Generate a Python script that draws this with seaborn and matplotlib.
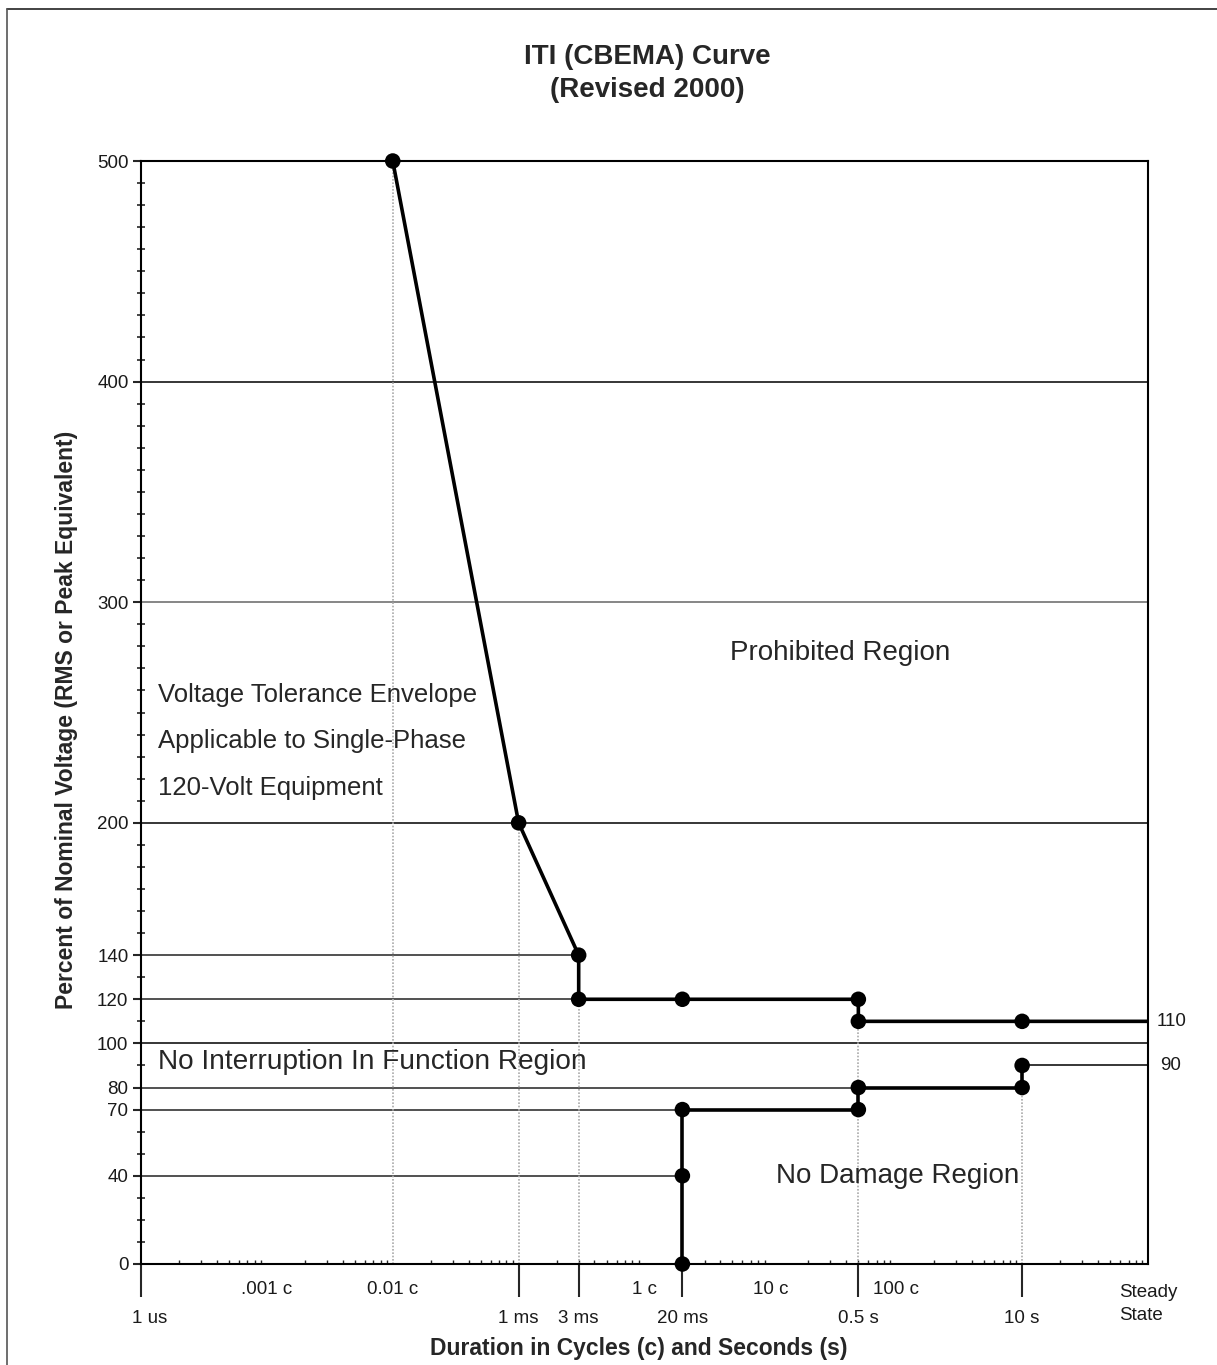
import matplotlib.pyplot as plt
import matplotlib.ticker as mticker
import matplotlib.transforms as mtrans
from matplotlib.lines import Line2D
import seaborn as sns

sns.set_style("white")
plt.rcParams['font.family'] = ['Liberation Sans', 'DejaVu Sans']

# ITI curve points: duration in seconds vs percent of nominal voltage
upper_sec = [1e-4, 1e-3, 3e-3, 3e-3, 2e-2, 0.5, 0.5, 10, 100]
upper_pct = [500, 200, 140, 120, 120, 120, 110, 110, 110]
lower_sec = [2e-2, 2e-2, 2e-2, 0.5, 0.5, 10, 10]
lower_pct = [0, 40, 70, 70, 80, 80, 90]

# axis ticks
cycle_ticks = [1e-5, 1e-4, 1e-2, 1e-1, 1]
cycle_labels = ['.001 c', '0.01 c', '1 c', '10 c', '100 c']
sec_ticks = [1e-6, 1e-3, 3e-3, 2e-2, 0.5, 10]
sec_labels = ['1 us', '1 ms', '3 ms', '20 ms', '0.5 s', '10 s']
y_ticks = [0, 40, 70, 80, 100, 120, 140, 200, 300, 400, 500]

# reference lines
full_grid = [100, 200, 300, 400]
full_grid_col = ['black', 'black', '#666666', 'black']
partial_y = [140, 120, 80, 70, 40]
partial_end = [3e-3, 3e-3, 0.5, 2e-2, 2e-2]
drop_x = [1e-4, 1e-3, 3e-3, 0.5, 10]
drop_top = [500, 200, 120, 110, 80]

fig = plt.figure(figsize=(12.17, 13.65), dpi=100)
ax = fig.add_axes([141/1217, 1 - 1264/1365, 1007/1217, 1103/1365])
ax.set_xscale('log')
ax.set_xlim(1e-6, 1e2)
ax.set_ylim(0, 500)

# grid-ish lines
for yv, c in zip(full_grid, full_grid_col):
    ax.hlines(yv, 1e-6, 1e2, colors=c, lw=1.1, zorder=1)
for yv, xe in zip(partial_y, partial_end):
    ax.hlines(yv, 1e-6, xe, colors='#222222', lw=1.1, zorder=1)
ax.vlines(drop_x, 0, drop_top, colors='#aaaaaa', lw=1.2, linestyles=(0, (1, 1)), zorder=1)
ax.hlines(90, 10, 100, colors='black', lw=1.1, zorder=2, clip_on=False)

# the curve
sns.lineplot(x=upper_sec, y=upper_pct, sort=False, estimator=None, color='black',
             linewidth=2.6, ax=ax, zorder=3)
sns.lineplot(x=lower_sec, y=lower_pct, sort=False, estimator=None, color='black',
             linewidth=2.6, ax=ax, zorder=3)
sns.scatterplot(x=upper_sec[:-1] + lower_sec, y=upper_pct[:-1] + lower_pct, s=125,
                color='black', edgecolor='none', ax=ax, zorder=5, clip_on=False)

# x ticks: cycles on top row, seconds on bottom row
ax.xaxis.set_major_locator(mticker.FixedLocator(cycle_ticks))
ax.set_xticklabels(cycle_labels)
ax.xaxis.set_minor_locator(mticker.LogLocator(base=10, subs=range(2, 10), numticks=20))
ax.xaxis.set_minor_formatter(mticker.NullFormatter())
ax.tick_params(axis='x', which='major', direction='inout', length=18, width=1.5,
               labelsize=13.5, pad=3, labelcolor='#1a1a1a')
ax.tick_params(axis='x', which='minor', direction='in', length=3, width=1, bottom=True)

sec = ax.secondary_xaxis('bottom')
sec.set_xticks(sec_ticks, labels=sec_labels)
sec.xaxis.set_minor_locator(mticker.NullLocator())
sec.tick_params(direction='out', length=24, width=1.5, labelsize=13.5, pad=9,
                labelcolor='#1a1a1a')
sec.spines['bottom'].set_visible(False)
first = sec.xaxis.get_ticklabels()[0]
first.set_transform(first.get_transform() +
                    mtrans.ScaledTranslation(0.09, 0, fig.dpi_scale_trans))

# y ticks
ax.set_yticks(y_ticks)
ax.yaxis.set_minor_locator(mticker.MultipleLocator(10))
ax.tick_params(axis='y', which='major', direction='out', length=6, width=1.5,
               labelsize=13.5, pad=3, labelcolor='#1a1a1a', left=True)
ax.tick_params(axis='y', which='minor', direction='inout', length=6, width=1.2, left=True)

for s in ax.spines.values():
    s.set_visible(True)
    s.set_color('black')
    s.set_linewidth(1.5)

ax.set_xlabel('')
ax.set_ylabel('')

# right-hand values
ax.text(1.009, 110, '110', transform=ax.get_yaxis_transform(), fontsize=13.5,
        va='center', ha='left', color='#1a1a1a')
ax.text(1.012, 90, '90', transform=ax.get_yaxis_transform(), fontsize=13.5,
        va='center', ha='left', color='#1a1a1a')
ax.text(0.971, -0.0254, 'Steady', transform=ax.transAxes, fontsize=13.5,
        va='center', ha='left', color='#1a1a1a')
ax.text(0.971, -0.047, 'State', transform=ax.transAxes, fontsize=13.5,
        va='center', ha='left', color='#1a1a1a')

# region annotations
ax.text(0.36, 277, 'Prohibited Region', fontsize=20, ha='center', va='center')
ax.text(1.36e-6, 258, 'Voltage Tolerance Envelope', fontsize=18.5, ha='left', va='center')
ax.text(1.36e-6, 237, 'Applicable to Single-Phase', fontsize=18.5, ha='left', va='center')
ax.text(1.36e-6, 216, '120-Volt Equipment', fontsize=18.5, ha='left', va='center')
ax.text(1.36e-6, 91.5, 'No Interruption In Function Region', fontsize=20.2, ha='left', va='center')
ax.text(1.03, 40, 'No Damage Region', fontsize=20, ha='center', va='center')

# titles and axis labels
fig.text(647/1217, 1 - 73.5/1365, 'ITI (CBEMA) Curve\n(Revised 2000)', fontsize=20,
         fontweight='bold', ha='center', va='center', linespacing=1.32)
fig.text(639/1217, 1 - 1348/1365, 'Duration in Cycles (c) and Seconds (s)', fontsize=16.5,
         fontweight='bold', ha='center', va='center')
fig.text(67/1217, 1 - 720/1365, 'Percent of Nominal Voltage (RMS or Peak Equivalent)',
         fontsize=16.5, fontweight='bold', ha='center', va='center', rotation=90)

# page border
fig.add_artist(Line2D([7/1217, 1], [1 - 9/1365, 1 - 9/1365], transform=fig.transFigure,
                      color='#222222', lw=1.2))
fig.add_artist(Line2D([7/1217, 7/1217], [0, 1 - 9/1365], transform=fig.transFigure,
                      color='#555555', lw=1.2))

fig.savefig('out.png', dpi=100)
